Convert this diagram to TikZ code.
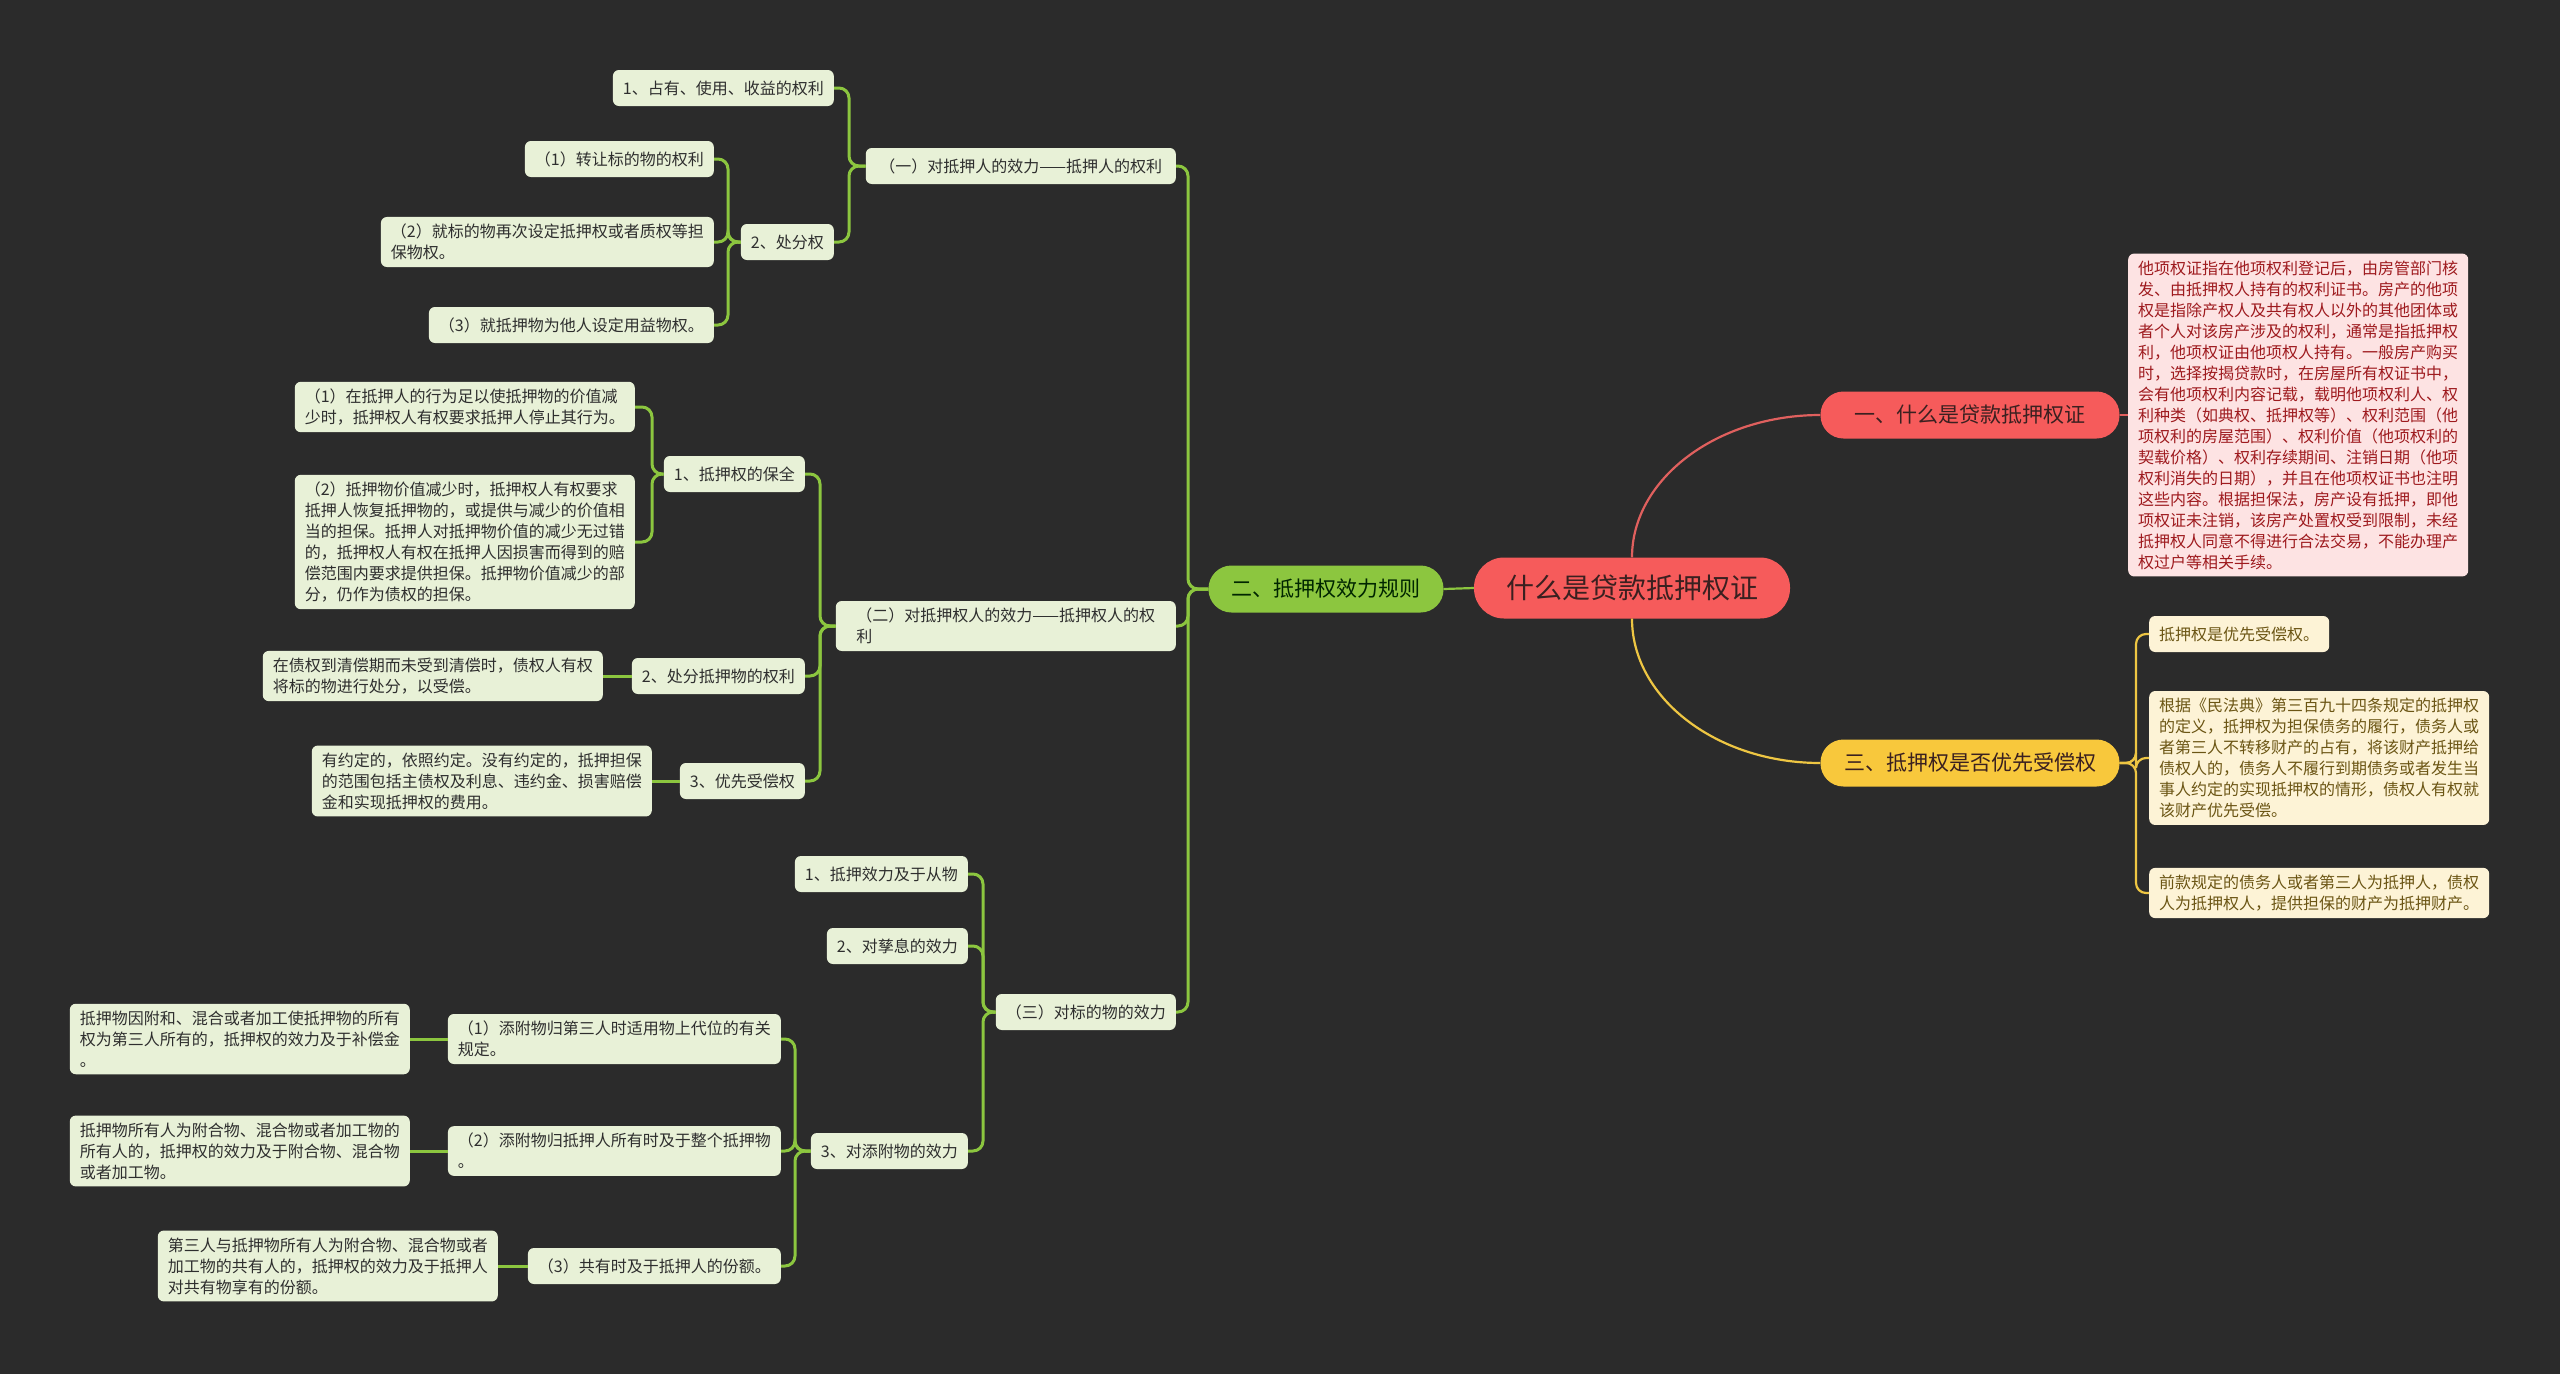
\documentclass[tikz,border=0pt]{standalone}
\usepackage{fontspec}
\newfontfamily\cjk{Noto Sans CJK SC}
\usetikzlibrary{calc}
\definecolor{bgc}{HTML}{2B2B2B}
\definecolor{leafg}{HTML}{E8F1D7}
\definecolor{leaftxt}{HTML}{2E2E2E}
\definecolor{lineg}{HTML}{8CC63F}
\definecolor{greenm}{HTML}{8CC63F}
\definecolor{redm}{HTML}{F65B5B}
\definecolor{redline}{HTML}{E0605E}
\definecolor{pinkf}{HTML}{FDE3E3}
\definecolor{pinktxt}{HTML}{9E1A1E}
\definecolor{yelm}{HTML}{F8C83C}
\definecolor{yelline}{HTML}{EEC643}
\definecolor{yelf}{HTML}{FDF3D6}
\definecolor{yeltxt}{HTML}{6B5514}
\definecolor{darktxt}{HTML}{3A2020}
\tikzset{
  leaf/.style={fill=leafg, text=leaftxt, rounded corners=6pt,
    font=\cjk\fontsize{16}{21}\selectfont, inner xsep=10pt, inner ysep=7pt,
    minimum height=36pt, align=left},
  pinkbox/.style={leaf, fill=pinkf, text=pinktxt},
  yelbox/.style={leaf, fill=yelf, text=yeltxt},
  rootnode/.style={fill=redm, text=darktxt, rounded corners=30pt,
    font=\cjk\fontsize{28}{34}\selectfont, minimum height=61pt, minimum width=316pt},
  branch/.style={rounded corners=23pt, font=\cjk\fontsize{21}{26}\selectfont,
    minimum height=47pt, text=darktxt},
  gline/.style={draw=lineg, line width=3pt, rounded corners=10pt},
  rline/.style={draw=redline, line width=2.2pt},
  yline/.style={draw=yelline, line width=2.2pt, rounded corners=10pt},
}
\begin{document}
\begin{tikzpicture}[x=1pt,y=-1pt]
\fill[bgc] (0,0) rectangle (2560,1374);
\useasboundingbox (0,0) rectangle (2560,1374);

% trunk x positions
\coordinate (T0) at (1188,0);
\coordinate (TA) at (849,0);
\coordinate (TA2) at (728,0);
\coordinate (TB) at (820,0);
\coordinate (TB1) at (652,0);
\coordinate (TC) at (983,0);
\coordinate (TC3) at (795,0);
\coordinate (TY) at (2136,0);

% main nodes
\node[rootnode] (c) at (1632,588) {什么是贷款抵押权证};
\node[branch, fill=redm, minimum width=299pt] (b1) at (1970,415) {一、什么是贷款抵押权证};
\node[branch, fill=greenm, minimum width=235pt, text=black!85!green] (b2) at (1326,589) {二、抵押权效力规则};
\node[branch, fill=yelm, minimum width=299pt] (b3) at (1970,763) {三、抵押权是否优先受偿权};

% right side
\node[pinkbox, anchor=west] (p) at (2128,415) {他项权证指在他项权利登记后，由房管部门核\\发、由抵押权人持有的权利证书。房产的他项\\权是指除产权人及共有权人以外的其他团体或\\者个人对该房产涉及的权利，通常是指抵押权\\利，他项权证由他项权人持有。一般房产购买\\时，选择按揭贷款时，在房屋所有权证书中，\\会有他项权利内容记载，载明他项权利人、权\\利种类（如典权、抵押权等）、权利范围（他\\项权利的房屋范围）、权利价值（他项权利的\\契载价格）、权利存续期间、注销日期（他项\\权利消失的日期），并且在他项权证书也注明\\这些内容。根据担保法，房产设有抵押，即他\\项权证未注销，该房产处置权受到限制，未经\\抵押权人同意不得进行合法交易，不能办理产\\权过户等相关手续。};
\node[yelbox, anchor=west] (y1) at (2149,634) {抵押权是优先受偿权。};
\node[yelbox, anchor=west] (y2) at (2149,758) {根据《民法典》第三百九十四条规定的抵押权\\的定义，抵押权为担保债务的履行，债务人或\\者第三人不转移财产的占有，将该财产抵押给\\债权人的，债务人不履行到期债务或者发生当\\事人约定的实现抵押权的情形，债权人有权就\\该财产优先受偿。};
\node[yelbox, anchor=west] (y3) at (2149,893) {前款规定的债务人或者第三人为抵押人，债权\\人为抵押权人，提供担保的财产为抵押财产。};

% second level (left)
\node[leaf, anchor=east, minimum width=310pt] (s1) at (1176,166) {（一）对抵押人的效力——抵押人的权利};
\node[leaf, anchor=east, minimum width=340pt] (s2) at (1176,626) {（二）对抵押权人的效力——抵押权人的权\\利};
\node[leaf, anchor=east] (s3) at (1176,1012) {（三）对标的物的效力};

% branch (一)
\node[leaf, anchor=east] (a1) at (834,88) {1、占有、使用、收益的权利};
\node[leaf, anchor=east] (a2) at (834,242) {2、处分权};
\node[leaf, anchor=east] (a2a) at (714,159) {（1）转让标的物的权利};
\node[leaf, anchor=east] (a2b) at (714,242) {（2）就标的物再次设定抵押权或者质权等担\\保物权。};
\node[leaf, anchor=east] (a2c) at (714,325) {（3）就抵押物为他人设定用益物权。};

% branch (二)
\node[leaf, anchor=east] (bb1) at (805,474) {1、抵押权的保全};
\node[leaf, anchor=east] (bb1a) at (635,407) {（1）在抵押人的行为足以使抵押物的价值减\\少时，抵押权人有权要求抵押人停止其行为。};
\node[leaf, anchor=east] (bb1b) at (635,542) {（2）抵押物价值减少时，抵押权人有权要求\\抵押人恢复抵押物的，或提供与减少的价值相\\当的担保。抵押人对抵押物价值的减少无过错\\的，抵押权人有权在抵押人因损害而得到的赔\\偿范围内要求提供担保。抵押物价值减少的部\\分，仍作为债权的担保。};
\node[leaf, anchor=east] (bb2) at (805,676) {2、处分抵押物的权利};
\node[leaf, anchor=east] (bb2a) at (603,676) {在债权到清偿期而未受到清偿时，债权人有权\\将标的物进行处分，以受偿。};
\node[leaf, anchor=east] (bb3) at (805,781) {3、优先受偿权};
\node[leaf, anchor=east] (bb3a) at (652,781) {有约定的，依照约定。没有约定的，抵押担保\\的范围包括主债权及利息、违约金、损害赔偿\\金和实现抵押权的费用。};

% branch (三)
\node[leaf, anchor=east] (cc1) at (968,874) {1、抵押效力及于从物};
\node[leaf, anchor=east] (cc2) at (968,946) {2、对孳息的效力};
\node[leaf, anchor=east] (cc3) at (968,1151) {3、对添附物的效力};
\node[leaf, anchor=east] (cc3a) at (781,1039) {（1）添附物归第三人时适用物上代位的有关\\规定。};
\node[leaf, anchor=east] (cc3a1) at (410,1039) {抵押物因附和、混合或者加工使抵押物的所有\\权为第三人所有的，抵押权的效力及于补偿金\\。};
\node[leaf, anchor=east] (cc3b) at (781,1151) {（2）添附物归抵押人所有时及于整个抵押物\\。};
\node[leaf, anchor=east] (cc3b1) at (410,1151) {抵押物所有人为附合物、混合物或者加工物的\\所有人的，抵押权的效力及于附合物、混合物\\或者加工物。};
\node[leaf, anchor=east] (cc3c) at (781,1266) {（3）共有时及于抵押人的份额。};
\node[leaf, anchor=east] (cc3c1) at (498,1266) {第三人与抵押物所有人为附合物、混合物或者\\加工物的共有人的，抵押权的效力及于抵押人\\对共有物享有的份额。};

% main connectors
\draw[rline] (c.north) .. controls ($(c.north)!0.55!(c.north |- b1.west)$) and ($(b1.west)!0.55!(c.north |- b1.west)$) .. (b1.west);
\draw[yline] (c.south) .. controls ($(c.south)!0.55!(c.south |- b3.west)$) and ($(b3.west)!0.55!(c.south |- b3.west)$) .. (b3.west);
\draw[draw=lineg, line width=2.2pt] (c.west) -- (b2.east);
\draw[rline] (b1.east) -- (p.west);
\foreach \n in {y1,y2,y3} \draw[yline] (b3.east) -- (b3.east -| TY) |- (\n.west);

% green connectors
\foreach \n in {s1,s2,s3} \draw[gline] (b2.west) -- (b2.west -| T0) |- (\n.east);
\foreach \n in {a1,a2} \draw[gline] (s1.west) -- (s1.west -| TA) |- (\n.east);
\foreach \n in {a2a,a2b,a2c} \draw[gline] (a2.west) -- (a2.west -| TA2) |- (\n.east);
\foreach \n in {bb1,bb2,bb3} \draw[gline] (s2.west) -- (s2.west -| TB) |- (\n.east);
\foreach \n in {bb1a,bb1b} \draw[gline] (bb1.west) -- (bb1.west -| TB1) |- (\n.east);
\draw[gline] (bb2.west) -- (bb2a.east);
\draw[gline] (bb3.west) -- (bb3a.east);
\foreach \n in {cc1,cc2,cc3} \draw[gline] (s3.west) -- (s3.west -| TC) |- (\n.east);
\foreach \n in {cc3a,cc3b,cc3c} \draw[gline] (cc3.west) -- (cc3.west -| TC3) |- (\n.east);
\draw[gline] (cc3a.west) -- (cc3a1.east);
\draw[gline] (cc3b.west) -- (cc3b1.east);
\draw[gline] (cc3c.west) -- (cc3c1.east);
\end{tikzpicture}
\end{document}
